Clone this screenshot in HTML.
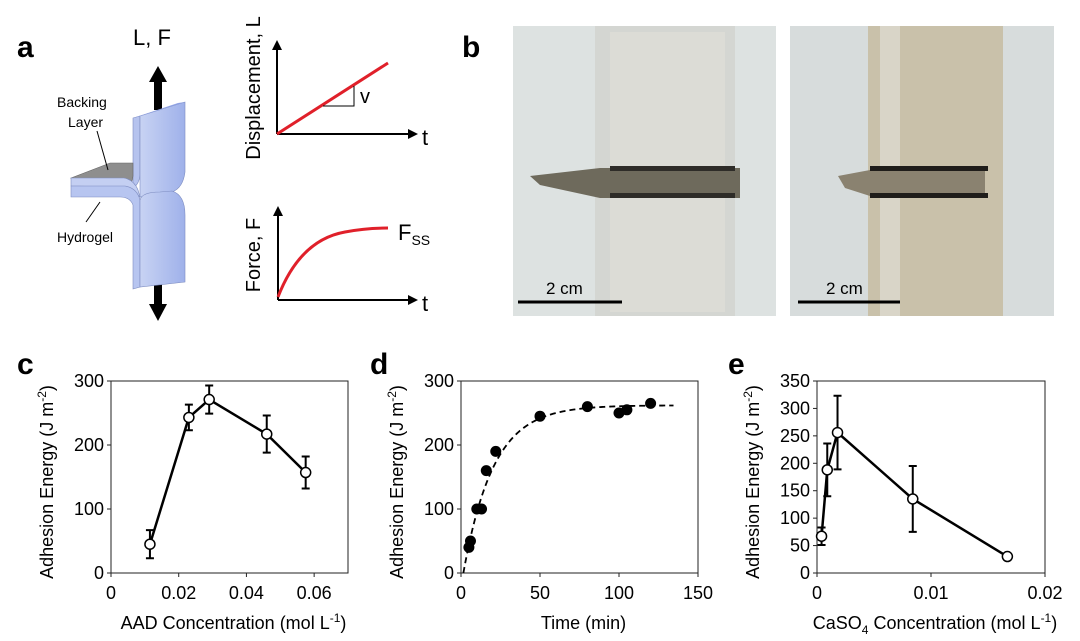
<!DOCTYPE html>
<html><head><meta charset="utf-8"><style>
body{margin:0;background:#fff;}
svg{display:block;font-family:"Liberation Sans",Arial,sans-serif;}
</style></head><body>
<svg width="1080" height="641" viewBox="0 0 1080 641">
<defs>
<linearGradient id="blueF" x1="0" x2="1"><stop offset="0" stop-color="#c8d3f3"/><stop offset="1" stop-color="#9fb1ea"/></linearGradient>
</defs>
<!-- Panel labels -->
<text x="17" y="57" font-size="30" font-weight="bold">a</text>
<text x="462" y="57" font-size="30" font-weight="bold">b</text>
<text x="17" y="374" font-size="30" font-weight="bold">c</text>
<text x="370" y="374" font-size="30" font-weight="bold">d</text>
<text x="728" y="374" font-size="30" font-weight="bold">e</text>

<!-- Panel a schematic -->
<g>
<text x="133" y="45" font-size="22">L, F</text>
<rect x="154" y="80" width="8" height="30" fill="#000"/>
<polygon points="149,82 158,66 167,82" fill="#000"/>
<rect x="154" y="282" width="8" height="24" fill="#000"/>
<polygon points="149,304 158,321 167,304" fill="#000"/>
<!-- upper strip -->
<path d="M133,118 L140,116 L140,175 Q139,186 130,190 L120,190 L133,182 Z" fill="#b6c3ee" stroke="#7d8cc0" stroke-width="0.6"/>
<path d="M140,116 L185,102 L185,172 Q183,188 172,192 L140,197 Q140,186 140,175 Z" fill="url(#blueF)" stroke="#7d8cc0" stroke-width="0.6"/>
<polygon points="133,118 178,103 185,102 140,116" fill="#8fa2e6"/>
<!-- tab -->
<path d="M71,178 L110,163 L133,163 L133,176 Q132,186 124,188 L71,178 Z" fill="#8e8e8e" stroke="#666" stroke-width="0.6"/>
<path d="M71,178 L124,178 Q134,180 138,190 L140,197 L128,187 L71,186 Z" fill="#c4cff2" stroke="#7d8cc0" stroke-width="0.6"/>
<path d="M71,186 L125,186 Q137,188 140,200 L140,287 L133,289 L133,205 Q130,197 120,197 L71,197 Z" fill="#b7c5f0" stroke="#7d8cc0" stroke-width="0.6"/>
<path d="M140,200 Q142,192 160,192 L172,191 Q185,195 185,215 L185,282 L140,287 Z" fill="url(#blueF)" stroke="#7d8cc0" stroke-width="0.6"/>
<text x="57" y="107" font-size="14">Backing</text>
<text x="68" y="127" font-size="14">Layer</text>
<line x1="97" y1="131" x2="108" y2="170" stroke="#000" stroke-width="1"/>
<text x="57" y="242" font-size="14">Hydrogel</text>
<line x1="86" y1="222" x2="100" y2="202" stroke="#000" stroke-width="1"/>
</g>

<!-- displacement schematic -->
<g>
<line x1="277" y1="134" x2="277" y2="48" stroke="#000" stroke-width="2"/>
<polygon points="272,50 277,40 282,50" fill="#000"/>
<line x1="277" y1="134" x2="410" y2="134" stroke="#000" stroke-width="2"/>
<polygon points="408,129 418,134 408,139" fill="#000"/>
<line x1="277" y1="134" x2="388" y2="63" stroke="#e0202a" stroke-width="3"/>
<polyline points="323,106 354,106 354,86" fill="none" stroke="#000" stroke-width="1"/>
<text x="360" y="103" font-size="20">v</text>
<text x="422" y="145" font-size="22">t</text>
<text transform="translate(260,88) rotate(-90)" text-anchor="middle" font-size="20">Displacement, L</text>
</g>
<g>
<line x1="278" y1="300" x2="278" y2="214" stroke="#000" stroke-width="2"/>
<polygon points="273,216 278,206 283,216" fill="#000"/>
<line x1="278" y1="300" x2="410" y2="300" stroke="#000" stroke-width="2"/>
<polygon points="408,295 418,300 408,305" fill="#000"/>
<path d="M278,297 Q300,240 345,232 Q365,228 388,228" fill="none" stroke="#e0202a" stroke-width="3"/>
<text x="398" y="240" font-size="22">F<tspan font-size="14" dy="5">SS</tspan></text>
<text x="422" y="311" font-size="22">t</text>
<text transform="translate(260,255) rotate(-90)" text-anchor="middle" font-size="20">Force, F</text>
</g>

<!-- Panel b photos -->
<g>
<rect x="513" y="26" width="263" height="290" fill="#dde2e1"/>
<rect x="595" y="26" width="140" height="290" fill="#d4d6d2"/>
<rect x="610" y="32" width="115" height="280" fill="#dcdcd6"/>
<path d="M530,176 L600,168 L740,168 L740,198 L600,198 L540,185 Z" fill="#6e6a5c"/>
<rect x="610" y="166" width="125" height="5" fill="#2e2c28"/>
<rect x="610" y="193" width="125" height="5" fill="#2e2c28"/>
<line x1="518" y1="302" x2="622" y2="302" stroke="#000" stroke-width="3"/>
<text x="546" y="294" font-size="17">2 cm</text>
</g>
<g>
<rect x="790" y="26" width="264" height="290" fill="#d7dcdc"/>
<rect x="868" y="26" width="135" height="290" fill="#c9c1aa"/>
<rect x="880" y="26" width="20" height="290" fill="#d9d5c8"/>
<path d="M838,176 L870,170 L985,168 L985,196 L870,196 L845,188 Z" fill="#8a8270"/>
<rect x="870" y="166" width="118" height="5" fill="#1f1d1a"/>
<rect x="870" y="193" width="118" height="5" fill="#1f1d1a"/>
<line x1="798" y1="302" x2="900" y2="302" stroke="#000" stroke-width="3"/>
<text x="826" y="294" font-size="17">2 cm</text>
</g>

<g id="charts"></g>
</svg>
<script>
// Panel c data
const cX = [0.0115, 0.023, 0.029, 0.046, 0.0575];
const cY = [45, 243, 271, 217, 157];
const cErr = [22, 20, 22, 29, 25];
const cXTicks = ["0", "0.02", "0.04", "0.06"];
const cYTicks = ["0", "100", "200", "300"];
// Panel d data
const dX = [5, 6, 10, 13, 16, 22, 50, 80, 100, 105, 120];
const dY = [40, 50, 100, 100, 160, 190, 245, 260, 250, 255, 265];
const dFitPlateau = 262, dFitTau = 19, dFitT0 = 1.5, dFitTEnd = 135;
const dXTicks = ["0", "50", "100", "150"];
const dYTicks = ["0", "100", "200", "300"];
// Panel e data
const eX = [0.0004, 0.0009, 0.0018, 0.0084, 0.0167];
const eY = [67, 188, 256, 135, 30];
const eErr = [16, 48, 67, 60, 0];
const eXTicks = ["0", "0.01", "0.02"];
const eYTicks = ["0", "50", "100", "150", "200", "250", "300", "350"];

const NS = "http://www.w3.org/2000/svg";
const root = document.getElementById('charts');
function mk(tag, attrs, parent, txt){
  const e = document.createElementNS(NS, tag);
  for (const k in attrs) e.setAttribute(k, attrs[k]);
  if (txt !== undefined) e.textContent = txt;
  (parent||root).appendChild(e);
  return e;
}
function panel(name, L, R, T, B, xmax, ymax, xt, yt, xlabel){
  const g = mk('g', {});
  
  
  const sx = v => L + (v / xmax) * (R - L);
  const sy = v => B - (v / ymax) * (B - T);
  mk('rect', {x:L, y:T, width:R-L, height:B-T, fill:'none', stroke:'#222', 'stroke-width':1}, g);
  xt.forEach(t => {
    const x = sx(parseFloat(t));
    mk('line', {x1:x, y1:B, x2:x, y2:B+4, stroke:'#222'}, g);
    const tx = mk('text', {x:x, y:B+26, 'font-size':18, 'text-anchor':'middle'}, g, t);
    
    
  });
  yt.forEach(t => {
    const y = sy(parseFloat(t));
    mk('line', {x1:L-4, y1:y, x2:L, y2:y, stroke:'#222'}, g);
    const ty = mk('text', {x:L-7, y:y+6, 'font-size':18, 'text-anchor':'end'}, g, t);
    
    
  });
  const xl = mk('text', {x:(L+R)/2 + 4, y:B+56, 'font-size':18, 'text-anchor':'middle'}, g);
  xl.innerHTML = xlabel;
  
  
  const yl = mk('text', {transform:`translate(${L-58},${(T+B)/2 + 5}) rotate(-90)`, 'font-size':18, 'text-anchor':'middle'}, g);
  yl.innerHTML = 'Adhesion Energy (J m<tspan font-size="12" dy="-7">-2</tspan><tspan dy="7">)</tspan>';
  
  
  return {g, sx, sy};
}
function linePanel(p, xs, ys, errs){
  mk('polyline', {points: xs.map((x,i)=>p.sx(x)+','+p.sy(ys[i])).join(' '), fill:'none', stroke:'#000', 'stroke-width':2.5}, p.g);
  xs.forEach((x,i) => {
    const cx = p.sx(x), e = errs[i];
    if (e > 0) {
      const eb = mk('path', {d:`M${cx},${p.sy(ys[i]-e)}V${p.sy(ys[i]+e)}M${cx-4},${p.sy(ys[i]+e)}h8M${cx-4},${p.sy(ys[i]-e)}h8`, stroke:'#000', 'stroke-width':2, fill:'none'}, p.g);
      
      
    }
  });
  xs.forEach((x,i) => {
    const c = mk('circle', {cx:p.sx(x), cy:p.sy(ys[i]), r:5, fill:'#fff', stroke:'#000', 'stroke-width':1.5}, p.g);
    
    
  });
}
const pc = panel('chart-c', 111, 348, 381, 573, 0.07, 300, cXTicks, cYTicks, 'AAD Concentration (mol L<tspan font-size="12" dy="-7">-1</tspan><tspan dy="7">)</tspan>');
linePanel(pc, cX, cY, cErr);

const pd = panel('chart-d', 461, 698, 381, 573, 150, 300, dXTicks, dYTicks, 'Time (min)');
let pts = [];
for (let t = dFitT0; t <= dFitTEnd; t += 1) pts.push(pd.sx(t)+','+pd.sy(dFitPlateau*(1-Math.exp(-(t-dFitT0)/dFitTau))));
const fit = mk('polyline', {points:pts.join(' '), fill:'none', stroke:'#000', 'stroke-width':1.8, 'stroke-dasharray':'6,4'}, pd.g);


dX.forEach((x,i) => {
  const c = mk('circle', {cx:pd.sx(x), cy:pd.sy(dY[i]), r:5.5, fill:'#000'}, pd.g);
  
  
});

const pe = panel('chart-e', 817, 1045, 381, 573, 0.02, 350, eXTicks, eYTicks, 'CaSO<tspan font-size="12" dy="5">4</tspan><tspan dy="-5"> Concentration (mol L</tspan><tspan font-size="12" dy="-7">-1</tspan><tspan dy="7">)</tspan>');
linePanel(pe, eX, eY, eErr);
</script>
</body></html>
